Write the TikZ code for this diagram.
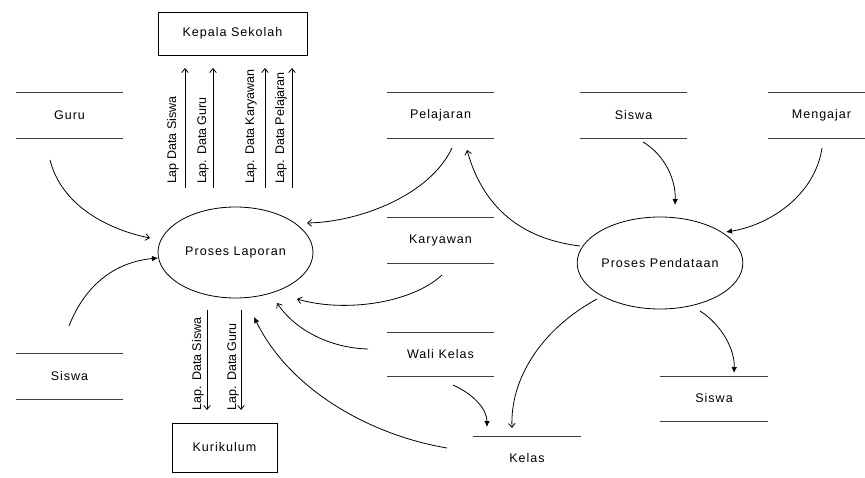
\documentclass[tikz,border=0pt]{standalone}
\usepackage{fontspec}
\setmainfont{Liberation Sans}
\newfontfamily\trackedfont[LetterSpace=8]{Liberation Sans}
\usetikzlibrary{arrows.meta,shapes.geometric}

\begin{document}
\begin{tikzpicture}[x=0.75pt,y=-0.75pt,
  every node/.style={inner sep=0pt, outer sep=0pt},
  lbl/.style={font=\trackedfont\fontsize{9.4}{11}\selectfont},
  vlbl/.style={font=\fontsize{9.4}{11}\selectfont, rotate=90, anchor=west},
  storeline/.style={draw=black!75, line width=0.6pt},
  store/.style={lbl, minimum width=80.25pt, minimum height=34.5pt,
    append after command={
      (\tikzlastnode.north west) edge[storeline] (\tikzlastnode.north east)
      (\tikzlastnode.south west) edge[storeline] (\tikzlastnode.south east)}},
  openstore/.style={lbl, minimum width=81pt, minimum height=33pt,
    append after command={
      (\tikzlastnode.north west) edge[storeline] (\tikzlastnode.north east)}},
  proc/.style={lbl, ellipse, draw, line width=0.6pt},
  entity/.style={lbl, draw, line width=0.6pt},
  flow/.style={line width=0.6pt},
  open/.style={flow, -{Straight Barb[length=3pt,width=5pt]}},
  solid/.style={flow, -{Latex[length=4.5pt,width=4.2pt]}}
]
\useasboundingbox (0,0) rectangle (865,478);

% external entities
\node[entity, minimum width=111.75pt, minimum height=32.25pt] (kepala) at (232.5,33.5) {Kepala Sekolah};
\node[entity, minimum width=78.75pt, minimum height=36.75pt] (kurikulum) at (224.5,447.5) {Kurikulum};

% processes
\node[proc, minimum width=116.25pt, minimum height=68.25pt] (laporan) at (235.5,252.5) {Proses Laporan};
\node[proc, minimum width=117pt, minimum height=69pt] (pendataan) at (660,263) {Proses Pendataan};

% data stores
\node[store] (guru) at (69.5,115) {Guru};
\node[store] (pelajaran) at (440.5,115) {Pelajaran};
\node[store] (siswaA) at (633.5,115) {Siswa};
\node[store] (mengajar) at (821.5,115) {Mengajar};
\node[store] (karyawan) at (440.5,240) {Karyawan};
\node[store, minimum height=33pt] (wali) at (440.5,354) {Wali Kelas};
\node[store] (siswaB) at (69.5,376) {Siswa};
\node[store, minimum width=81pt, minimum height=33.75pt] (siswaC) at (714,398.5) {Siswa};
\node[openstore] (kelas) at (527,458) {Kelas};

% reports sent up to the principal
\foreach \i/\x in {1/185, 2/213, 3/265, 4/292} {
  \coordinate (upS\i) at (\x,188);
  \coordinate (upT\i) at (\x,68);
  \draw[open] (upS\i) -- (upT\i);
}
\node[vlbl] (lk1) at (173,184) {Lap Data Siswa};
\node[vlbl] (lk2) at (203,184) {Lap. Data Guru};
\node[vlbl] (lk3) at (251,184) {Lap. Data Karyawan};
\node[vlbl] (lk4) at (281,184) {Lap. Data Pelajaran};

% reports sent down to the curriculum office
\foreach \i/\x in {1/207, 2/241} {
  \coordinate (dnS\i) at (\x,310);
  \coordinate (dnT\i) at (\x,410);
  \draw[open] (dnS\i) -- (dnT\i);
}
\node[vlbl] (lc1) at (198,410) {Lap. Data Siswa};
\node[vlbl] (lc2) at (233,410) {Lap. Data Guru};

% flows into Proses Laporan
\coordinate (a1) at (50,160);   \coordinate (b1) at (150,238);
\draw[open] (a1) .. controls (62,207) and (110,230) .. (b1);
\coordinate (a2) at (69,326);   \coordinate (b2) at (158,258);
\draw[solid] (a2) .. controls (85,285) and (115,262) .. (b2);
\coordinate (a3) at (452,148);  \coordinate (b3) at (307,223);
\draw[open] (a3) .. controls (430,195) and (360,222) .. (b3);
\coordinate (a4) at (442,275);  \coordinate (b4) at (297,299);
\draw[open] (a4) .. controls (412,303) and (345,313) .. (b4);
\coordinate (a5) at (368,349);  \coordinate (b5) at (277,303);
\draw[open] (a5) .. controls (330,348) and (295,330) .. (b5);
\coordinate (a6) at (447,448);  \coordinate (b6) at (254,317);
\draw[solid] (a6) .. controls (370,435) and (290,390) .. (b6);

% flows around Proses Pendataan
\coordinate (c1) at (580,246);  \coordinate (d1) at (467,150);
\draw[open] (c1) .. controls (530,240) and (485,215) .. (d1);
\coordinate (c2) at (643,142);  \coordinate (d2) at (675,205);
\draw[solid] (c2) .. controls (665,155) and (676,180) .. (d2);
\coordinate (c3) at (822,148);  \coordinate (d3) at (726,232);
\draw[solid] (c3) .. controls (815,195) and (770,225) .. (d3);
\coordinate (c4) at (597,299);  \coordinate (d4) at (512,428);
\draw[open] (c4) .. controls (540,330) and (510,380) .. (d4);
\coordinate (c5) at (453,385);  \coordinate (d5) at (487,427);
\draw[solid] (c5) .. controls (475,395) and (487,410) .. (d5);
\coordinate (c6) at (700,311);  \coordinate (d6) at (734,373);
\draw[solid] (c6) .. controls (722,325) and (735,350) .. (d6);
\end{tikzpicture}
\end{document}
